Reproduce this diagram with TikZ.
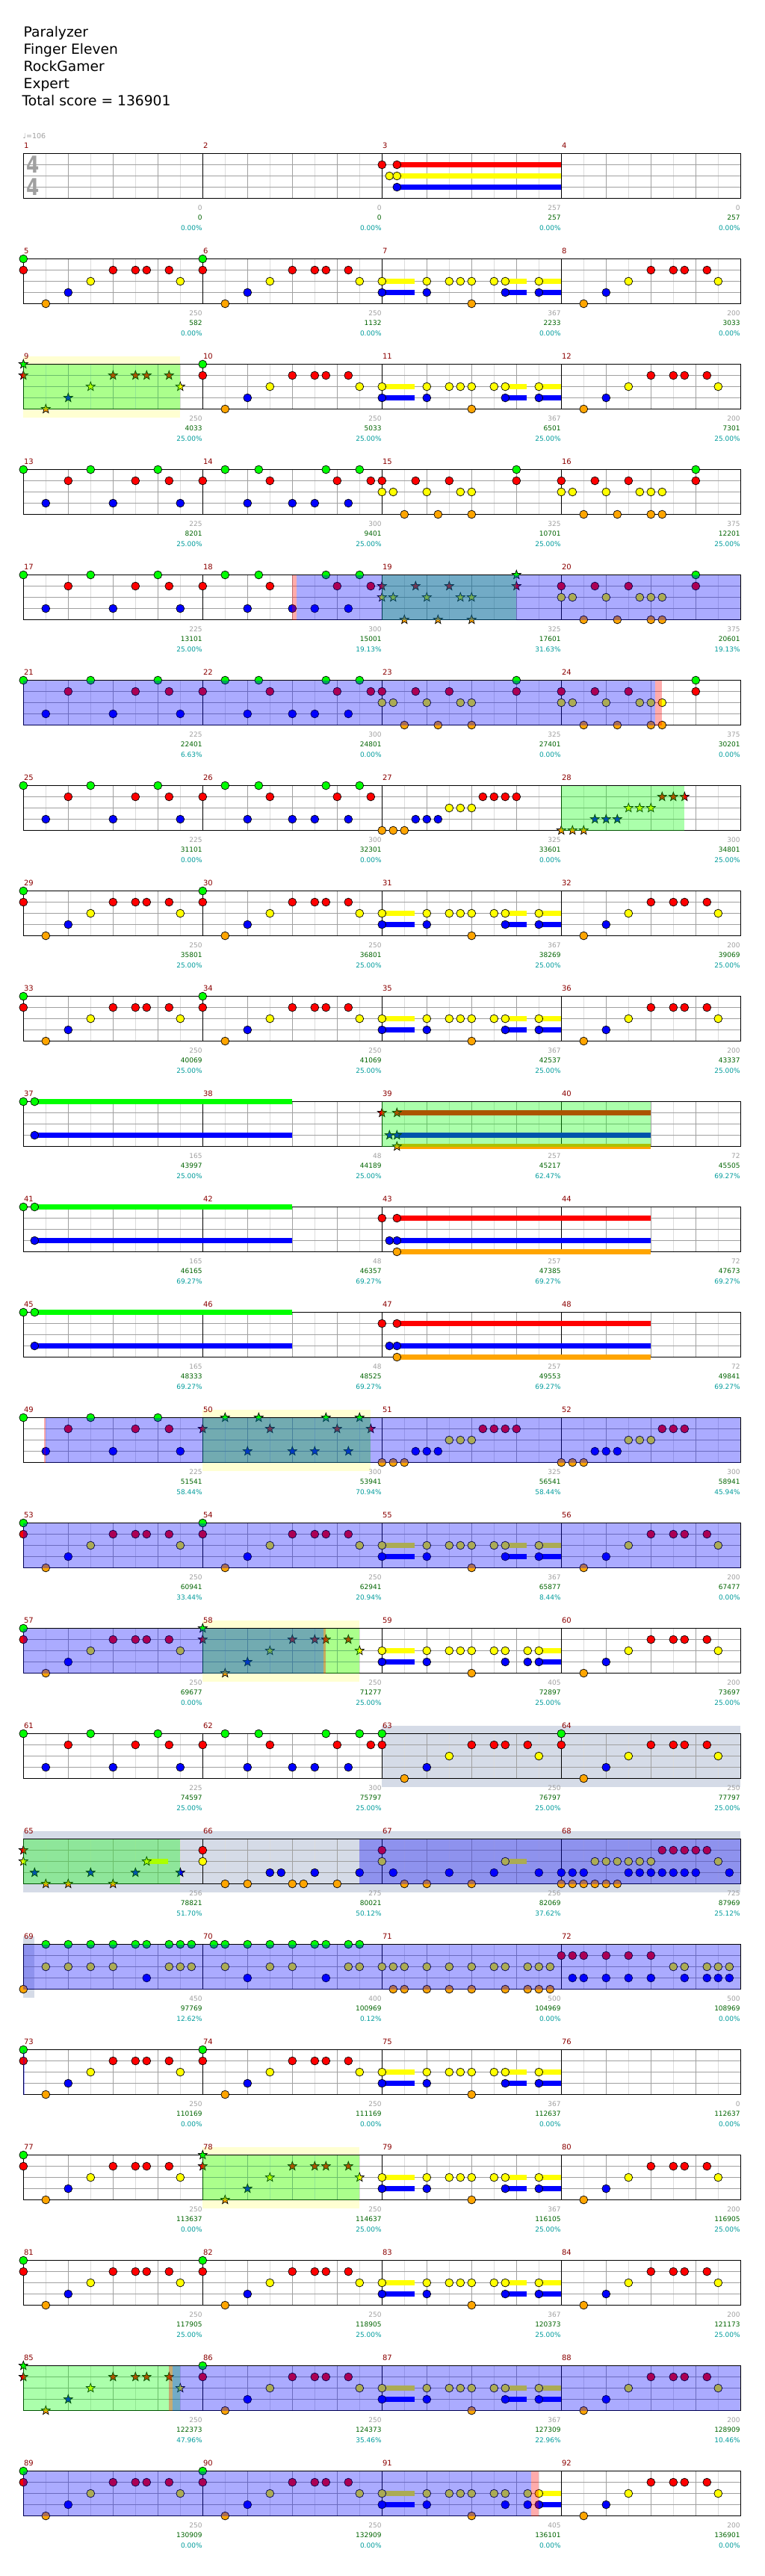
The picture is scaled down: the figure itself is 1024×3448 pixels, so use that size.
\documentclass[tikz,border=0pt]{standalone}
\usepackage{fontspec}
\setmainfont{DejaVu Sans}
\usepackage{graphicx}
\usepackage{tikz}
\usetikzlibrary{calc}
\definecolor{lane0}{HTML}{00FF00}
\definecolor{lane1}{HTML}{FF0000}
\definecolor{lane2}{HTML}{FFFF00}
\definecolor{lane3}{HTML}{0000FF}
\definecolor{lane4}{HTML}{FFA500}
\definecolor{gridDark}{HTML}{A0A0A0}
\definecolor{gridLight}{HTML}{DCDCDC}
\definecolor{barRed}{HTML}{8B0000}
\definecolor{txtGray}{HTML}{A0A0A0}
\definecolor{txtGreen}{HTML}{006400}
\definecolor{txtTeal}{HTML}{009C9C}
\definecolor{paleYellow}{HTML}{FFFFD2}
\definecolor{soloGray}{HTML}{D5DBE7}
\tikzset{
  gem/.style={draw=black, line width=0.7pt, fill=#1},
  sustain/.style={draw=#1, line width=7pt},
  beatline/.style={gridDark, line width=0.9pt},
  halfline/.style={gridLight, line width=0.9pt},
  spphrase/.style={fill=green, fill opacity=0.33},
  spactive/.style={fill=blue, fill opacity=0.33},
  spgap/.style={fill=red, fill opacity=0.33},
  barnum/.style={font=\fontsize{10}{10}\selectfont, text=barRed, inner sep=0pt, anchor=base west},
  scoretxt/.style={font=\fontsize{9}{9}\selectfont, text=#1, inner sep=0pt, anchor=base east},
  header/.style={font=\fontsize{18.7}{18.7}\selectfont, anchor=base west, inner sep=0pt},
  timesig/.style={font=\fontsize{31}{31}\selectfont\bfseries, text=gridDark, inner sep=0pt}
}
% gems: time in beats, lane 0 (green) .. 4 (orange)
\newcommand{\gem}[2]{\draw[gem=lane#2] ({#1*60},{#2*15}) circle[radius=5.4];}
\newcommand{\stargem}[2]{\draw[gem=lane#2] ({#1*60},{#2*15}) +(-90:6.3) -- +(-54:2.6) -- +(-18:6.3) -- +(18:2.6) -- +(54:6.3) -- +(90:2.6) -- +(126:6.3) -- +(162:2.6) -- +(198:6.3) -- +(234:2.6) -- cycle;}
\newcommand{\holdbar}[3]{\draw[sustain=lane#3] ({#1*60},{#3*15}) -- ({#2*60},{#3*15});}
\newcommand{\gems}[2]{\foreach \t/\l in {#2}{#1{\t}{\l}}}
\newcommand{\measure}[2]{\begin{scope}[shift={(#1*240,0)}]#2\end{scope}}
\newcommand{\spband}[3]{\fill[#1] ({#2*60},0) rectangle ({#3*60},60);}
\newcommand{\backbox}[3]{\fill[#1] ({#2*60},-10.5) rectangle ({#3*60},71);}
% note patterns
\newcommand{\patA}[1]{\gems{#1}{0/0,0/1,.5/4,1/3,1.5/2,2/1,2.5/1,2.75/1,3.25/1,3.5/2}}
\newcommand{\patC}{\holdbar{0}{.73}{2}\holdbar{0}{.73}{3}\holdbar{2.75}{3.23}{2}\holdbar{2.75}{3.23}{3}\holdbar{3.5}{4}{2}\holdbar{3.5}{4}{3}%
  \gems{\gem}{0/2,0/3,1/2,1/3,1.5/2,1.75/2,2/2,2/4,2.5/2,2.75/2,2.75/3,3.5/2,3.5/3}}
\newcommand{\patCb}{\holdbar{0}{.73}{2}\holdbar{0}{.73}{3}\holdbar{3.5}{4}{2}\holdbar{3.5}{4}{3}%
  \gems{\gem}{0/2,0/3,1/2,1/3,1.5/2,1.75/2,2/2,2/4,2.5/2,2.75/2,2.75/3,3.25/2,3.25/3,3.5/2,3.5/3}}
\newcommand{\patD}{\gems{\gem}{.5/4,1/3,1.5/2,2/1,2.5/1,2.75/1,3.25/1,3.5/2}}
\newcommand{\patE}{\gems{\gem}{0/0,.5/3,1/1,1.5/0,2/3,2.5/1,3/0,3.25/1,3.5/3}}
\newcommand{\patF}[1]{\gems{#1}{0/1,.5/0,1/3,1.25/0,1.5/1,2/3,2.5/3,2.75/0,3/1,3.25/3,3.5/0,3.75/1}}
\newcommand{\patI}[1]{\gems{#1}{0/1,0/2,.25/2,.5/4,.75/1,1/2,1.25/4,1.5/1,1.75/2,2/2,2/4,3/0,3/1}}
\newcommand{\patJ}{\patI\gem\gems{\gem}{2.25/2,2.25/4}}
\newcommand{\patG}{\gems{\gem}{0/4,.25/4,.5/4,.75/3,1/3,1.25/3,1.5/2,1.75/2,2/2,2.25/1,2.5/1,2.75/1,3/1}}
\newcommand{\patH}[1]{\gems{#1}{0/4,.25/4,.5/4,.75/3,1/3,1.25/3,1.5/2,1.75/2,2/2,2.25/1,2.5/1,2.75/1}}
\newcommand{\patK}{\holdbar{.25}{6}{0}\holdbar{.25}{6}{3}\gems{\gem}{0/0,.25/0,.25/3}}
\newcommand{\patL}[1]{\holdbar{.3333}{6}{1}\holdbar{.3333}{6}{3}\holdbar{.3333}{6}{4}\gems{#1}{0/1,.3333/1,.1667/3,.3333/3,.3333/4}}
\newcommand{\patM}{\holdbar{.3333}{4}{1}\holdbar{.3333}{4}{2}\holdbar{.3333}{4}{3}\gems{\gem}{0/1,.1667/2,.3333/1,.3333/2,.3333/3}}
\newcommand{\patN}[1]{\holdbar{2.75}{3.23}{2}\gems{#1}{0/1,0/2,.25/3,.5/4,1/4,1.5/3,2/4,2.5/3,2.75/2,3.5/3}}
\newcommand{\patP}{\gems{\gem}{0/1,0/2,.5/4,1/4,1.5/3,1.75/3,2/4,2.25/4,2.5/3,3/4,3.5/3}}
\newcommand{\patR}{\gems{\gem}{0/3,0/4,.25/3,.25/4,.5/3,.5/4,.75/2,.75/4,1/2,1/4,1.25/2,1.25/4,1.5/2,1.5/3,1.75/2,1.75/3,2/2,2/3,2.25/1,2.25/3,2.5/1,2.5/3,2.75/1,2.75/3,3/1,3/3,3.25/1,3.5/2,3.75/3}}
\newcommand{\patS}{\gems{\gem}{0/4,.5/0,.5/2,1/0,1/2,1.5/0,1.5/2,2/0,2/2,2.5/0,2.75/0,2.75/3,3.25/0,3.25/2,3.5/0,3.5/2,3.75/0,3.75/2}}
\newcommand{\patT}{\gems{\gem}{.25/0,.5/0,.5/2,1/0,1/3,1.5/0,1.5/2,2/0,2/2,2.5/0,2.75/0,2.75/3,3.25/0,3.25/2,3.5/0,3.5/2}}
\newcommand{\patU}{\gems{\gem}{0/2,.25/2,.25/4,.5/2,.5/4,1/2,1/4,1.5/2,1.5/4,2/2,2/4,2.5/2,2.75/2,2.75/4,3.25/2,3.25/4,3.5/2,3.5/4,3.75/2,3.75/4}}
\newcommand{\patV}{\gems{\gem}{0/1,.25/1,.25/3,.5/1,.5/3,1/1,1/3,1.5/1,1.5/3,2/1,2/3,2.5/2,2.75/2,2.75/3,3.25/2,3.25/3,3.5/2,3.5/3,3.75/2,3.75/3}}
\newcommand{\staffgrid}{%
  \foreach \i in {1,3,...,31} \draw[halfline] (\i*30,0) -- (\i*30,60);
  \foreach \i in {1,2,3,5,6,7,9,10,11,13,14,15} \draw[beatline] (\i*60,0) -- (\i*60,60);
  \foreach \j in {1,2,3} \draw[beatline] (0,\j*15) -- (960,\j*15);
  \foreach \i in {1,2,3} \draw[black, line width=0.9pt] (\i*240,0) -- (\i*240,60);
  \draw[black, line width=1.1pt] (0,0) rectangle (960,60);}
\newcommand{\barlabels}[2]{%
  \foreach \sc/\tot/\pc [count=\k from 0] in {#2}{%
    \pgfmathtruncatemacro{\mnum}{4*#1+\k+1}
    \node[barnum] (num\mnum) at (\k*240+0.5,-7.5) {\mnum};
    \node[scoretxt=txtGray] (sc\mnum) at (\k*240+239.5,76) {\sc};
    \node[scoretxt=txtGreen] (tot\mnum) at (\k*240+239.5,89.3) {\tot};
    \node[scoretxt=txtTeal] (pct\mnum) at (\k*240+239.5,102.6) {\pc\%};
  }}
% row: index, backdrop, gems, star power, scores
\newcommand{\chartrow}[5]{%
  \begin{scope}[shift={(31.3,{205.5+141*#1})}]
    #2
    \staffgrid
    #3
    #4
    \barlabels{#1}{#5}
  \end{scope}}

\begin{document}
\begin{tikzpicture}[x=1pt, y=-1pt]
  \useasboundingbox (0,0) rectangle (1024,3448);
  \fill[white] (0,0) rectangle (1024,3448);

  \node[header] (title) at (31.5,49.3) {Paralyzer};
  \node[header] (artist) at (31.5,72.3) {Finger Eleven};
  \node[header] (charter) at (31.5,95.3) {RockGamer};
  \node[header] (level) at (31.5,118.3) {Expert};
  \node[header] (total) at (29.5,141.7) {Total score = 136901};
  \node[font=\fontsize{9.5}{9.5}\selectfont, text=txtGray, anchor=base west, inner sep=0pt] (tempo) at (30.5,185) {♩=106};
  \node[timesig] (tsUpper) at (44.5,220.5) {\scalebox{0.8}[1]{4}};
  \node[timesig] (tsLower) at (44.5,250.5) {\scalebox{0.8}[1]{4}};

  \chartrow{0}{}{\measure{2}{\patM}}{}
    {0/0/0.00, 0/0/0.00, 257/257/0.00, 0/257/0.00}
  \chartrow{1}{}{\measure{0}{\patA\gem}\measure{1}{\patA\gem}\measure{2}{\patC}\measure{3}{\patD}}{}
    {250/582/0.00, 250/1132/0.00, 367/2233/0.00, 200/3033/0.00}
  \chartrow{2}{\backbox{paleYellow}{0}{3.5}}
    {\measure{0}{\patA\stargem}\measure{1}{\patA\gem}\measure{2}{\patC}\measure{3}{\patD}}
    {\spband{spphrase}{0}{3.5}}
    {250/4033/25.00, 250/5033/25.00, 367/6501/25.00, 200/7301/25.00}
  \chartrow{3}{}{\measure{0}{\patE}\measure{1}{\patF\gem}\measure{2}{\patI\gem}\measure{3}{\patJ}}{}
    {225/8201/25.00, 300/9401/25.00, 325/10701/25.00, 375/12201/25.00}
  \chartrow{4}{}{\measure{0}{\patE}\measure{1}{\patF\gem}\measure{2}{\patI\stargem}\measure{3}{\patJ}}
    {\spband{spphrase}{8}{11}\spband{spgap}{6}{6.1}\spband{spactive}{6.1}{16}}
    {225/13101/25.00, 300/15001/19.13, 325/17601/31.63, 375/20601/19.13}
  \chartrow{5}{}{\measure{0}{\patE}\measure{1}{\patF\gem}\measure{2}{\patI\gem}\measure{3}{\patJ}}
    {\spband{spactive}{0}{14.1}\spband{spgap}{14.1}{14.25}}
    {225/22401/6.63, 300/24801/0.00, 325/27401/0.00, 375/30201/0.00}
  \chartrow{6}{}{\measure{0}{\patE}\measure{1}{\patF\gem}\measure{2}{\patG}\measure{3}{\patH\stargem}}
    {\spband{spphrase}{12}{14.75}}
    {225/31101/0.00, 300/32301/0.00, 325/33601/0.00, 300/34801/25.00}
  \chartrow{7}{}{\measure{0}{\patA\gem}\measure{1}{\patA\gem}\measure{2}{\patC}\measure{3}{\patD}}{}
    {250/35801/25.00, 250/36801/25.00, 367/38269/25.00, 200/39069/25.00}
  \chartrow{8}{}{\measure{0}{\patA\gem}\measure{1}{\patA\gem}\measure{2}{\patC}\measure{3}{\patD}}{}
    {250/40069/25.00, 250/41069/25.00, 367/42537/25.00, 200/43337/25.00}
  \chartrow{9}{}{\measure{0}{\patK}\measure{2}{\patL\stargem}}
    {\spband{spphrase}{8}{14}}
    {165/43997/25.00, 48/44189/25.00, 257/45217/62.47, 72/45505/69.27}
  \chartrow{10}{}{\measure{0}{\patK}\measure{2}{\patL\gem}}{}
    {165/46165/69.27, 48/46357/69.27, 257/47385/69.27, 72/47673/69.27}
  \chartrow{11}{}{\measure{0}{\patK}\measure{2}{\patL\gem}}{}
    {165/48333/69.27, 48/48525/69.27, 257/49553/69.27, 72/49841/69.27}
  \chartrow{12}{\backbox{paleYellow}{4}{7.75}}
    {\measure{0}{\patE}\measure{1}{\patF\stargem}\measure{2}{\patG}\measure{3}{\patH\gem}}
    {\spband{spphrase}{4}{7.75}\spband{spgap}{.46}{.5}\spband{spactive}{.5}{16}}
    {225/51541/58.44, 300/53941/70.94, 325/56541/58.44, 300/58941/45.94}
  \chartrow{13}{}{\measure{0}{\patA\gem}\measure{1}{\patA\gem}\measure{2}{\patC}\measure{3}{\patD}}
    {\spband{spactive}{0}{16}}
    {250/60941/33.44, 250/62941/20.94, 367/65877/8.44, 200/67477/0.00}
  \chartrow{14}{\backbox{paleYellow}{4}{7.5}}
    {\measure{0}{\patA\gem}\measure{1}{\patA\stargem}\measure{2}{\patCb}\measure{3}{\patD}}
    {\spband{spphrase}{4}{7.5}\spband{spactive}{0}{6.7}\spband{spgap}{6.7}{6.75}}
    {250/69677/0.00, 250/71277/25.00, 405/72897/25.00, 200/73697/25.00}
  \chartrow{15}{\backbox{soloGray}{8}{16}}
    {\measure{0}{\patE}\measure{1}{\patF\gem}\measure{2}{\patA\gem}\measure{3}{\patA\gem}}{}
    {225/74597/25.00, 300/75797/25.00, 250/76797/25.00, 250/77797/25.00}
  \chartrow{16}{\backbox{soloGray}{0}{16}}
    {\measure{0}{\patN\stargem}\measure{1}{\patP}\measure{2}{\patN\gem}\measure{3}{\patR}}
    {\spband{spphrase}{0}{3.5}\spband{spactive}{7.5}{16}}
    {256/78821/51.70, 275/80021/50.12, 256/82069/37.62, 725/87969/25.12}
  \chartrow{17}{\backbox{soloGray}{0}{.24}}
    {\measure{0}{\patS}\measure{1}{\patT}\measure{2}{\patU}\measure{3}{\patV}}
    {\spband{spactive}{0}{16}}
    {450/97769/12.62, 400/100969/0.12, 500/104969/0.00, 500/108969/0.00}
  \chartrow{18}{}{\measure{0}{\patA\gem}\measure{1}{\patA\gem}\measure{2}{\patC}}
    {\spband{spactive}{0}{.03}}
    {250/110169/0.00, 250/111169/0.00, 367/112637/0.00, 0/112637/0.00}
  \chartrow{19}{\backbox{paleYellow}{4}{7.5}}
    {\measure{0}{\patA\gem}\measure{1}{\patA\stargem}\measure{2}{\patC}\measure{3}{\patD}}
    {\spband{spphrase}{4}{7.5}}
    {250/113637/0.00, 250/114637/25.00, 367/116105/25.00, 200/116905/25.00}
  \chartrow{20}{}{\measure{0}{\patA\gem}\measure{1}{\patA\gem}\measure{2}{\patC}\measure{3}{\patD}}{}
    {250/117905/25.00, 250/118905/25.00, 367/120373/25.00, 200/121173/25.00}
  \chartrow{21}{}{\measure{0}{\patA\stargem}\measure{1}{\patA\gem}\measure{2}{\patC}\measure{3}{\patD}}
    {\spband{spphrase}{0}{3.5}\spband{spgap}{3.24}{3.32}\spband{spactive}{3.32}{16}}
    {250/122373/47.96, 250/124373/35.46, 367/127309/22.96, 200/128909/10.46}
  \chartrow{22}{}{\measure{0}{\patA\gem}\measure{1}{\patA\gem}\measure{2}{\patCb}\measure{3}{\patD}}
    {\spband{spactive}{0}{11.33}\spband{spgap}{11.33}{11.5}}
    {250/130909/0.00, 250/132909/0.00, 405/136101/0.00, 200/136901/0.00}
\end{tikzpicture}
\end{document}
